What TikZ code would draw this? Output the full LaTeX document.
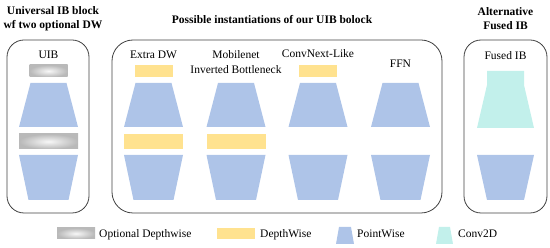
\documentclass[tikz,border=0pt]{standalone}
\usepackage{fontspec}
\setmainfont{Liberation Serif}
\newfontfamily\tnrfont{Liberation Serif}
\definecolor{pwblue}{RGB}{174,196,232}
\definecolor{dwyellow}{RGB}{255,226,143}
\definecolor{convteal}{RGB}{194,240,235}
\definecolor{boxline}{RGB}{64,64,64}
\tikzset{
  grp/.style={draw=boxline, line width=0.8pt, rounded corners=17pt},
  pw/.style={fill=pwblue},
  dw/.style={fill=dwyellow},
  conv/.style={fill=convteal},
  optdw/.style={inner color=gray!6, outer color=gray!55},
  lbl/.style={font=\tnrfont\fontsize{11.5}{14}\selectfont, inner sep=0pt, anchor=base},
  ttl/.style={font=\tnrfont\bfseries\fontsize{11.5}{14}\selectfont, inner sep=0pt, anchor=base},
  leg/.style={font=\tnrfont\fontsize{11.5}{14}\selectfont, inner sep=0pt, anchor=base west},
}
\newcommand{\pwUp}[1]{\fill[pw] ({#1-18},83) -- ({#1+18},83) -- ({#1+29.5},127) -- ({#1-29.5},127) -- cycle;}
\newcommand{\pwDown}[1]{\fill[pw] ({#1-29.5},155) -- ({#1+29.5},155) -- ({#1+20},200) -- ({#1-20},200) -- cycle;}
\newcommand{\dwTop}[1]{\fill[dw] ({#1-19},65) rectangle ({#1+19},77);}
\newcommand{\dwMid}[1]{\fill[dw] ({#1-29.5},134) rectangle ({#1+29.5},149);}
\begin{document}
\begin{tikzpicture}[x=1pt, y=-1pt]
\useasboundingbox (0,0) rectangle (550,248);

% group boxes
\draw[grp] (7,40) rectangle (89,213);
\draw[grp, rounded corners=21pt] (112,40) rectangle (442,213);
\draw[grp] (464,40) rectangle (547,213);

% titles
\node[ttl] (t1a) at (53,15) {Universal IB block};
\node[ttl] (t1b) at (53,28.5) {wf two optional DW};
\node[ttl] (t2) at (272,24) {Possible instantiations of our UIB bolock};
\node[ttl] (t3a) at (505.5,16) {Alternative};
\node[ttl] (t3b) at (505.5,29.5) {Fused IB};

% UIB column
\node[lbl] (uib) at (48.5,58.5) {UIB};
\shade[optdw] (29.5,65) rectangle (67.5,77);
\pwUp{48.5}
\shade[optdw] (19,134) rectangle (78,149);
\pwDown{48.5}

% Extra DW
\node[lbl] (xdw) at (153.5,58.5) {Extra DW};
\dwTop{153.5}
\pwUp{153.5}
\dwMid{153.5}
\pwDown{153.5}

% Mobilenet IB
\node[lbl] (mb1) at (236,59) {Mobilenet};
\node[lbl] (mb2) at (236,74) {Inverted Bottleneck};
\pwUp{236}
\dwMid{236}
\pwDown{236}

% ConvNext-Like
\node[lbl] (cn) at (318,58) {ConvNext-Like};
\dwTop{318}
\pwUp{318}
\pwDown{318}

% FFN
\node[lbl] (ffn) at (400.5,68) {FFN};
\pwUp{400.5}
\pwDown{400.5}

% Fused IB
\node[lbl] (fib) at (505.5,59.5) {Fused IB};
\fill[conv] (487,71) -- (524,71) -- (524,85) -- (534,128) -- (477,128) -- (487,85) -- cycle;
\fill[pw] (477,155) -- (534,155) -- (524,200) -- (487,200) -- cycle;

% legend
\shade[optdw] (57,228) rectangle (95,239);
\node[leg] (l1) at (99,237.5) {Optional Depthwise};
\fill[dw] (217,228) rectangle (255,239);
\node[leg] (l2) at (260,237.5) {DepthWise};
\fill[pw] (339,227) -- (351,227) -- (354,244) -- (336,244) -- cycle;
\node[leg] (l3) at (357,237.5) {PointWise};
\fill[conv] (439,227) -- (450,227) -- (453,244) -- (436,244) -- cycle;
\node[leg] (l4) at (458,237.5) {Conv2D};
\end{tikzpicture}
\end{document}
